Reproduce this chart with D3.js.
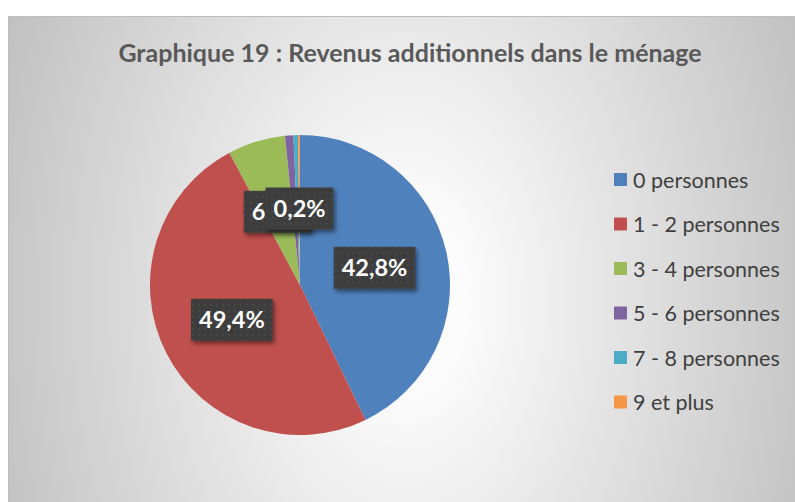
<!DOCTYPE html>
<html>
<head>
<meta charset="utf-8">
<script src="https://cdn.jsdelivr.net/npm/d3@7"></script>
<style>
  body { margin: 0; background: #fff; }
  svg { display: block; }
</style>
</head>
<body>
<div id="chart"></div>
<script>
const categories = ["0 personnes", "1 - 2 personnes", "3 - 4 personnes", "5 - 6 personnes", "7 - 8 personnes", "9 et plus"];
const values = [42.8, 49.4, 6.2, 0.9, 0.5, 0.2];
const labelVisible = [true, true, true, false, false, true];
const colors = ["#4f81bd", "#c0504d", "#9bbb59", "#8064a2", "#4bacc6", "#f79646"];
const title = "Graphique 19 : Revenus additionnels dans le ménage";

const width = 795, height = 502;

const svg = d3.select("#chart")
  .append("svg")
  .attr("width", width)
  .attr("height", height);

const defs = svg.append("defs");

// background gradient (light centre, grey edges)
const bg = defs.append("radialGradient")
  .attr("id", "bg")
  .attr("gradientUnits", "userSpaceOnUse")
  .attr("cx", 0).attr("cy", 0).attr("r", 1)
  .attr("gradientTransform", "translate(405,300) scale(430,640)");
bg.append("stop").attr("offset", 0).attr("stop-color", "#ffffff");
bg.append("stop").attr("offset", 0.15).attr("stop-color", "#fbfbfb");
bg.append("stop").attr("offset", 1).attr("stop-color", "#c2c2c2");

// dotted fill for the label boxes
const pat = defs.append("pattern")
  .attr("id", "dots")
  .attr("patternUnits", "userSpaceOnUse")
  .attr("width", 6).attr("height", 6);
pat.append("rect").attr("width", 6).attr("height", 6).attr("fill", "#3d3d3d");
pat.append("circle").attr("cx", 3).attr("cy", 3).attr("r", 0.9).attr("fill", "#4e4e4e");

const shadow = defs.append("filter")
  .attr("id", "shadow")
  .attr("x", "-20%").attr("y", "-20%")
  .attr("width", "150%").attr("height", "160%");
shadow.append("feDropShadow")
  .attr("dx", 2).attr("dy", 3)
  .attr("stdDeviation", 2)
  .attr("flood-color", "#000")
  .attr("flood-opacity", 0.45);

svg.append("rect")
  .attr("x", 8.5).attr("y", 16.5)
  .attr("width", width).attr("height", height)
  .attr("fill", "url(#bg)")
  .attr("stroke", "#bdbdbd")
  .attr("stroke-width", 1);

svg.append("text")
  .attr("x", 410)
  .attr("y", 62)
  .attr("text-anchor", "middle")
  .attr("font-family", "Lato, 'Open Sans', sans-serif")
  .attr("font-weight", "bold")
  .attr("font-size", 25)
  .attr("fill", "#595959")
  .text(title);

const cx = 300, cy = 285, radius = 150;

const data = categories.map((c, i) => ({ name: c, value: values[i], color: colors[i], show: labelVisible[i] }));

const pie = d3.pie()
  .sort(null)
  .value(d => d.value);

const arcs = pie(data);

const arc = d3.arc()
  .innerRadius(0)
  .outerRadius(radius);

const labelArc = d3.arc()
  .innerRadius(0)
  .outerRadius(radius * 1.02);

const g = svg.append("g")
  .attr("transform", `translate(${cx},${cy})`);

g.selectAll("path")
  .data(arcs)
  .enter().append("path")
  .attr("d", arc)
  .attr("fill", d => d.data.color);

const fmt = v => d3.format(".1f")(v).replace(".", ",") + "%";

const labels = g.selectAll("g.lbl")
  .data(arcs.filter(d => d.data.show))
  .enter().append("g")
  .attr("class", "lbl")
  .attr("transform", d => `translate(${labelArc.centroid(d)})`);

labels.each(function(d) {
  const lg = d3.select(this);
  const rect = lg.append("rect").attr("fill", "url(#dots)").attr("filter", "url(#shadow)");
  const t = lg.append("text")
    .attr("text-anchor", "middle")
    .attr("dy", "0.36em")
    .attr("font-family", "Lato, 'Open Sans', sans-serif")
    .attr("font-weight", "bold")
    .attr("font-size", 23.5)
    .attr("fill", "#ffffff")
    .text(fmt(d.data.value));
  const w = t.node().getComputedTextLength() + 16;
  const h = 42;
  rect.attr("x", -w / 2).attr("y", -h / 2).attr("width", w).attr("height", h);
});

// legend
const legend = svg.append("g")
  .attr("transform", "translate(614,180)");

const item = legend.selectAll("g")
  .data(data)
  .enter().append("g")
  .attr("transform", (d, i) => `translate(0,${i * 44.5})`);

item.append("rect")
  .attr("x", 0).attr("y", -7)
  .attr("width", 13).attr("height", 13)
  .attr("fill", d => d.color);

item.append("text")
  .attr("x", 19)
  .attr("y", 0)
  .attr("dy", "0.35em")
  .attr("font-family", "Lato, 'Open Sans', sans-serif")
  .attr("font-size", 21.5)
  .attr("fill", "#404040")
  .text(d => d.name);
</script>
</body>
</html>
